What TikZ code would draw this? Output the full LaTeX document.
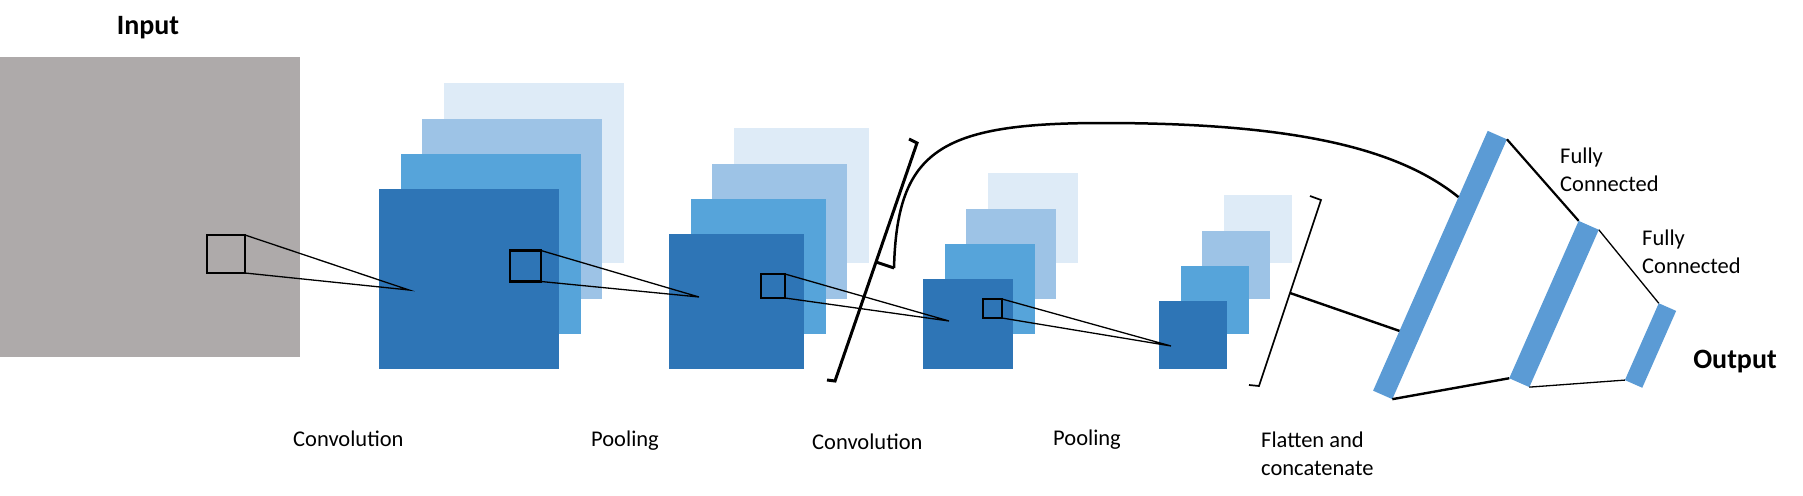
\documentclass[tikz,border=0pt]{standalone}
\usepackage{fontspec}
\setmainfont{Carlito}
\usetikzlibrary{calc}
\definecolor{inputgray}{HTML}{AEAAAA}
\definecolor{mapdark}{HTML}{2E75B6}
\definecolor{mapmid}{RGB}{86,164,218}
\definecolor{maplight}{HTML}{9DC3E6}
\definecolor{mapfaint}{HTML}{DEEBF7}
\definecolor{fcblue}{HTML}{5B9BD5}

\begin{document}
\begin{tikzpicture}[x=1pt, y=-1pt,
		fmap/.style={rectangle, inner sep=0pt, outer sep=0pt, anchor=south west},
		kernel/.style={draw, line width=2.4pt, inner sep=0pt, outer sep=0pt, minimum size=#1},
		fclayer/.style={fill=fcblue, inner sep=0pt, outer sep=0pt, rotate=66.2},
		lbl/.style={anchor=base west, inner sep=0pt, align=left, font=\fontsize{22.5}{28.5}\selectfont},
		head/.style={anchor=base, inner sep=0pt, font=\fontsize{28}{34}\selectfont\bfseries},
		proj/.style={line width=1.3pt}]
		\useasboundingbox (0,0) rectangle (1803,495);
		\node[fill=inputgray, inner sep=0pt, outer sep=0pt, minimum width=300pt, minimum height=300pt, anchor=north west] (input) at (0,57) {};
		\node[head] (input-lbl) at (148,35) {Input};
		\foreach \name/\x/\s in {conv1/379/180, pool1/669/135, conv2/923/90, pool2/1159/68}
			\foreach \k/\col in {3/mapfaint, 2/maplight, 1/mapmid, 0/mapdark}
				\node[fmap, fill=\col, minimum size=\s*1pt] (\name-\k) at (\x+21.7*\k, 369-35.2*\k) {};
		\node[kernel=38pt] (k-input) at (226,254) {};
		\node[kernel=31pt] (k-conv1) at (525.5,266) {};
		\node[kernel=24pt] (k-pool1) at (773,286) {};
		\node[kernel=19pt] (k-conv2) at (992.5,308.5) {};
		\coordinate (t-conv1) at (409,290);
		\coordinate (t-pool1) at (699,297);
		\coordinate (t-conv2) at (949,321);
		\coordinate (t-pool2) at (1171,346);
		\foreach \a/\b in {k-input/t-conv1, k-conv1/t-pool1, k-pool1/t-conv2, k-conv2/t-pool2}
			\draw[proj] (\a.north east) -- (\b) -- (\a.south east);
		\node[fclayer, minimum width=284pt, minimum height=21pt] (fc1) at (1440,265) {};
		\node[fclayer, minimum width=172pt, minimum height=22pt] (fc2) at (1554,304) {};
		\node[fclayer, minimum width=84pt, minimum height=19pt] (fc3) at (1650.5,345.5) {};
		\draw[line width=2.2pt] (fc1.south east) -- (fc2.north east);
		\draw[line width=2.4pt] (fc1.south west) -- (fc2.north west);
		\draw[line width=1.3pt] (fc2.south east) -- (fc3.north east);
		\draw[line width=1.3pt] (fc2.south west) -- (fc3.north west);
		\coordinate (brA-t) at (917,143);
		\coordinate (brA-b) at (835,381);
		\coordinate (brA-m) at ($(brA-t)!0.5!(brA-b)$);
		\draw[line width=3pt] (909,139) -- (brA-t) -- (brA-b) -- (827,380);
		\draw[line width=3pt] (brA-m) -- ++(18,6) coordinate (brA-tip);
		\coordinate (fc1-top) at ($(fc1.north west)!0.745!(fc1.north east)$);
		\draw[line width=2.5pt] (brA-tip) .. controls (897,150) and (940,123) .. (1103,123) .. controls (1300,123) and (1400,150) .. (fc1-top);
		\coordinate (brB-t) at (1321,200);
		\coordinate (brB-b) at (1259,386);
		\coordinate (brB-m) at ($(brB-t)!0.5!(brB-b)$);
		\draw[line width=1.7pt] (1310,196) -- (brB-t) -- (brB-b) -- (1249,385);
		\coordinate (fc1-flat) at ($(fc1.north west)!0.23!(fc1.north east)$);
		\draw[line width=2.4pt] (brB-m) -- (fc1-flat);
		\node[lbl] (conv1-lbl) at (293,446) {Convolution};
		\node[lbl] (pool1-lbl) at (591,446) {Pooling};
		\node[lbl] (conv2-lbl) at (812,449) {Convolution};
		\node[lbl] (pool2-lbl) at (1053,445) {Pooling};
		\node[lbl] (flat-lbl) at (1261,475.5) {Flatten and\\concatenate};
		\node[lbl] (fc1-lbl) at (1560,191.5) {Fully\\Connected};
		\node[lbl] (fc2-lbl) at (1642,273.5) {Fully\\Connected};
		\node[head] (output-lbl) at (1735,368) {Output};
	\end{tikzpicture}
\end{document}
